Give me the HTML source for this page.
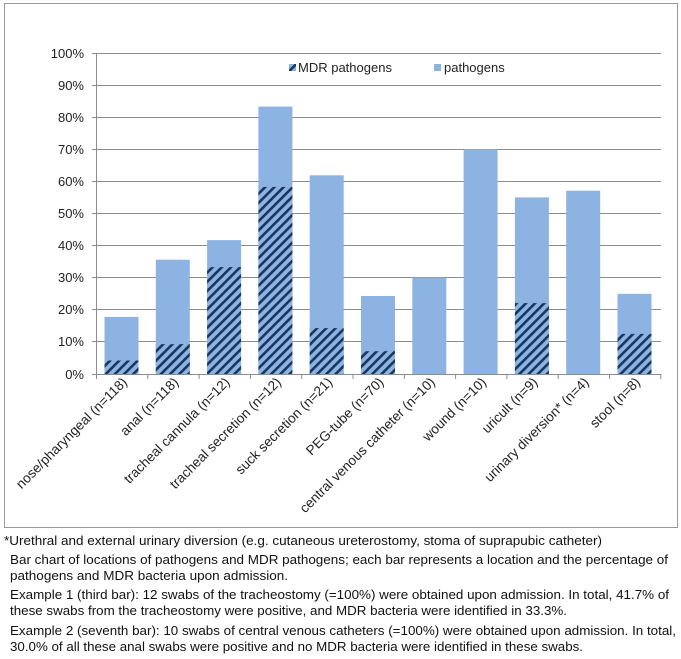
<!DOCTYPE html>
<html><head><meta charset="utf-8"><style>
body{margin:0;background:#fff;}
svg{display:block;font-family:"Liberation Sans",Arial,sans-serif;}
</style></head><body>
<svg width="681" height="659" viewBox="0 0 681 659" xmlns="http://www.w3.org/2000/svg">
<defs>
<pattern id="h" patternUnits="userSpaceOnUse" width="6.5" height="6.5" patternTransform="rotate(45)">
<rect width="6.5" height="6.5" fill="#8db3e2"/>
<rect x="0" y="0" width="2.6" height="6.5" fill="#17375e"/>
</pattern>
</defs>
<rect x="4.5" y="3.5" width="673" height="524" fill="#fff" stroke="#999" stroke-width="1"/>
<g stroke="#8c8c8c" stroke-width="1">
<line x1="96" y1="53.5" x2="661" y2="53.5"/>
<line x1="96" y1="85.5" x2="661" y2="85.5"/>
<line x1="96" y1="117.5" x2="661" y2="117.5"/>
<line x1="96" y1="149.5" x2="661" y2="149.5"/>
<line x1="96" y1="181.5" x2="661" y2="181.5"/>
<line x1="96" y1="213.5" x2="661" y2="213.5"/>
<line x1="96" y1="245.5" x2="661" y2="245.5"/>
<line x1="96" y1="277.5" x2="661" y2="277.5"/>
<line x1="96" y1="309.5" x2="661" y2="309.5"/>
<line x1="96" y1="341.5" x2="661" y2="341.5"/>
<line x1="96" y1="374.5" x2="661" y2="374.5"/>
<line x1="96.5" y1="53" x2="96.5" y2="374"/>
</g>
<g stroke="#8c8c8c" stroke-width="1">
<line x1="92" y1="53.5" x2="96" y2="53.5"/><line x1="92" y1="85.5" x2="96" y2="85.5"/><line x1="92" y1="117.5" x2="96" y2="117.5"/><line x1="92" y1="149.5" x2="96" y2="149.5"/><line x1="92" y1="181.5" x2="96" y2="181.5"/><line x1="92" y1="213.5" x2="96" y2="213.5"/><line x1="92" y1="245.5" x2="96" y2="245.5"/><line x1="92" y1="277.5" x2="96" y2="277.5"/><line x1="92" y1="309.5" x2="96" y2="309.5"/><line x1="92" y1="341.5" x2="96" y2="341.5"/><line x1="92" y1="374.5" x2="96" y2="374.5"/>
<line x1="96.5" y1="374" x2="96.5" y2="379"/><line x1="147.8" y1="374" x2="147.8" y2="379"/><line x1="199.1" y1="374" x2="199.1" y2="379"/><line x1="250.4" y1="374" x2="250.4" y2="379"/><line x1="301.7" y1="374" x2="301.7" y2="379"/><line x1="353" y1="374" x2="353" y2="379"/><line x1="404.3" y1="374" x2="404.3" y2="379"/><line x1="455.6" y1="374" x2="455.6" y2="379"/><line x1="506.9" y1="374" x2="506.9" y2="379"/><line x1="558.2" y1="374" x2="558.2" y2="379"/><line x1="609.5" y1="374" x2="609.5" y2="379"/><line x1="660.8" y1="374" x2="660.8" y2="379"/>
</g>
<g font-size="13" fill="#222" text-anchor="end">
<text x="84" y="58">100%</text><text x="84" y="90">90%</text><text x="84" y="122">80%</text><text x="84" y="154">70%</text><text x="84" y="186">60%</text><text x="84" y="218">50%</text><text x="84" y="250">40%</text><text x="84" y="282">30%</text><text x="84" y="314">20%</text><text x="84" y="346">10%</text><text x="84" y="379">0%</text>
</g>
<g fill="#8db3e2">
<rect x="104.5" y="316.9" width="34" height="57.1"/>
<rect x="155.8" y="259.7" width="34" height="114.3"/>
<rect x="207.1" y="240.1" width="34" height="133.9"/>
<rect x="258.4" y="106.6" width="34" height="267.4"/>
<rect x="309.7" y="175.3" width="34" height="198.7"/>
<rect x="361" y="296" width="34" height="78"/>
<rect x="412.3" y="277.7" width="34" height="96.3"/>
<rect x="463.6" y="149.3" width="34" height="224.7"/>
<rect x="514.9" y="197.4" width="34" height="176.6"/>
<rect x="566.2" y="190.7" width="34" height="183.3"/>
<rect x="617.5" y="293.8" width="34" height="80.2"/>
</g>
<g fill="url(#h)">
<rect x="104.5" y="360.5" width="34" height="13.5"/>
<rect x="155.8" y="344.1" width="34" height="29.9"/>
<rect x="207.1" y="267.1" width="34" height="106.9"/>
<rect x="258.4" y="186.9" width="34" height="187.1"/>
<rect x="309.7" y="328.1" width="34" height="45.9"/>
<rect x="361" y="351.2" width="34" height="22.8"/>
<rect x="514.9" y="303.1" width="34" height="70.9"/>
<rect x="617.5" y="333.9" width="34" height="40.1"/>
</g>
<rect x="289" y="64" width="7" height="7" fill="url(#h)"/>
<text x="298" y="72" font-size="13" fill="#222">MDR pathogens</text>
<rect x="434" y="64" width="7" height="7" fill="#8db3e2"/>
<text x="444" y="72" font-size="13" fill="#222">pathogens</text>
<g font-size="13.6" fill="#222" text-anchor="end">
<text transform="translate(128,383) rotate(-45)">nose/pharyngeal (n=118)</text>
<text transform="translate(179.3,383) rotate(-45)">anal (n=118)</text>
<text transform="translate(230.6,383) rotate(-45)">tracheal cannula (n=12)</text>
<text transform="translate(281.9,383) rotate(-45)">tracheal secretion (n=12)</text>
<text transform="translate(333.2,383) rotate(-45)">suck secretion (n=21)</text>
<text transform="translate(384.5,383) rotate(-45)">PEG-tube (n=70)</text>
<text transform="translate(435.8,383) rotate(-45)">central venous catheter (n=10)</text>
<text transform="translate(487.1,383) rotate(-45)">wound (n=10)</text>
<text transform="translate(538.4,383) rotate(-45)">uricult (n=9)</text>
<text transform="translate(589.7,383) rotate(-45)">urinary diversion* (n=4)</text>
<text transform="translate(641,383) rotate(-45)">stool (n=8)</text>
</g>
<g font-size="13" fill="#111">
<text x="4" y="545" textLength="598" lengthAdjust="spacingAndGlyphs">*Urethral and external urinary diversion (e.g. cutaneous ureterostomy, stoma of suprapubic catheter)</text>
<text x="10" y="564" textLength="658" lengthAdjust="spacingAndGlyphs">Bar chart of locations of pathogens and MDR pathogens; each bar represents a location and the percentage of</text>
<text x="10" y="580" textLength="278" lengthAdjust="spacingAndGlyphs">pathogens and MDR bacteria upon admission.</text>
<text x="10" y="599" textLength="659" lengthAdjust="spacingAndGlyphs">Example 1 (third bar): 12 swabs of the tracheostomy (=100%) were obtained upon admission. In total, 41.7% of</text>
<text x="10" y="615" textLength="557" lengthAdjust="spacingAndGlyphs">these swabs from the tracheostomy were positive, and MDR bacteria were identified in 33.3%.</text>
<text x="10" y="635" textLength="666" lengthAdjust="spacingAndGlyphs">Example 2 (seventh bar): 10 swabs of central venous catheters (=100%) were obtained upon admission. In total,</text>
<text x="10" y="651" textLength="573" lengthAdjust="spacingAndGlyphs">30.0% of all these anal swabs were positive and no MDR bacteria were identified in these swabs.</text>
</g>
</svg>
</body></html>
